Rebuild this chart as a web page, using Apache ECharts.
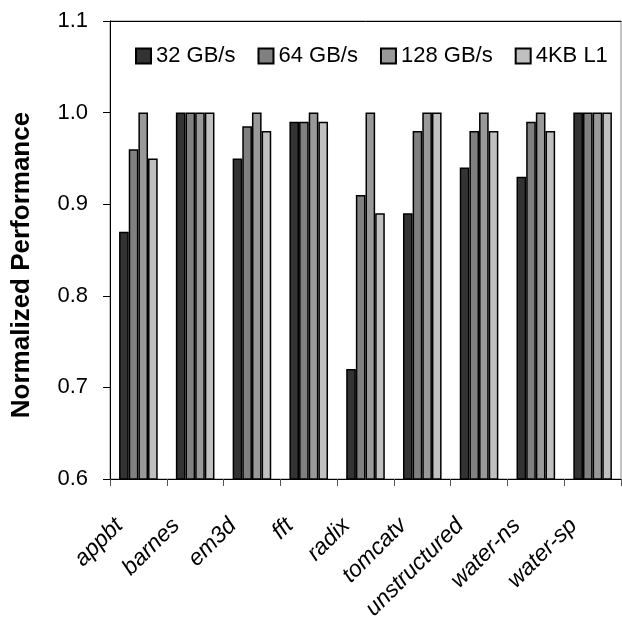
<!DOCTYPE html>
<html>
<head>
<meta charset="utf-8">
<script src="https://cdn.jsdelivr.net/npm/echarts@6/dist/echarts.min.js"></script>
<style>
html,body{margin:0;padding:0;background:#fff;}
#chart{width:622px;height:618px;}
</style>
</head>
<body>
<div id="chart"></div>
<script>
var categories = ['appbt','barnes','em3d','fft','radix','tomcatv','unstructured','water-ns','water-sp'];
var seriesNames = ['32 GB/s','64 GB/s','128 GB/s','4KB L1'];
var s32 = [0.87, 1.0, 0.95, 0.99, 0.72, 0.89, 0.94, 0.93, 1.0];
var s64 = [0.96, 1.0, 0.985, 0.99, 0.91, 0.98, 0.98, 0.99, 1.0];
var s128 = [1.0, 1.0, 1.0, 1.0, 1.0, 1.0, 1.0, 1.0, 1.0];
var s4kb = [0.95, 1.0, 0.98, 0.99, 0.89, 1.0, 0.98, 0.98, 1.0];
var yTicks = [0.6, 0.7, 0.8, 0.9, 1.0, 1.1];
var colors = ['#333333','#808080','#999999','#c0c0c0'];
var values = [s32, s64, s128, s4kb];

var chart = echarts.init(document.getElementById('chart'), null, {renderer:'canvas'});
var font = 'Liberation Sans, Arial, sans-serif';
var series = values.map(function(v, i){
  return {
    name: seriesNames[i],
    type: 'bar',
    data: v,
    barGap: '0%',
    barCategoryGap: '32%',
    itemStyle: {color: colors[i], borderColor: '#000', borderWidth: 1.5},
    emphasis: {disabled: true},
    animation: false
  };
});
chart.setOption({
  animation: false,
  backgroundColor: '#fff',
  grid: {left: 110, right: 1, top: 21, bottom: 139, show: true, borderColor: '#888', borderWidth: 1,
         containLabel: false, outerBoundsMode: 'none'},
  legend: {
    data: seriesNames,
    left: 130, top: 40,
    itemWidth: 15, itemHeight: 15,
    itemGap: 22,
    textStyle: {fontFamily: font, fontSize: 22, color: '#000'},
    icon: 'rect'
  },
  xAxis: [{
    type: 'category',
    data: categories,
    boundaryGap: true,
    axisLine: {show: true, lineStyle: {color: '#000', width: 1}},
    axisTick: {show: true, interval: 0, length: 7, lineStyle: {color: '#555'}},
    axisLabel: {
      interval: 0, rotate: 45, margin: 24,
      fontFamily: font, fontSize: 23, fontStyle: 'italic', color: '#000',
      padding: [0, 27, 0, 0]
    },
    splitLine: {show: false}
  }, {
    type: 'category',
    data: categories,
    position: 'top',
    axisLine: {show: true, lineStyle: {color: '#000', width: 1}},
    axisTick: {show: false},
    axisLabel: {show: false}
  }],
  yAxis: {
    type: 'value',
    min: yTicks[0], max: yTicks[yTicks.length-1], interval: 0.1,
    name: 'Normalized Performance',
    nameLocation: 'middle',
    nameGap: 75,
    nameTextStyle: {fontFamily: font, fontSize: 26, fontWeight: 'bold', color: '#000', padding: [0, 30, 0, 0]},
    axisLine: {show: true, lineStyle: {color: '#000', width: 1}},
    axisTick: {show: true, length: 7, lineStyle: {color: '#000'}},
    axisLabel: {
      fontFamily: font, fontSize: 22, color: '#000', margin: 22,
      formatter: function(v){ return v.toFixed(1); }
    },
    splitLine: {show: false}
  },
  series: series
});
</script>
</body>
</html>
